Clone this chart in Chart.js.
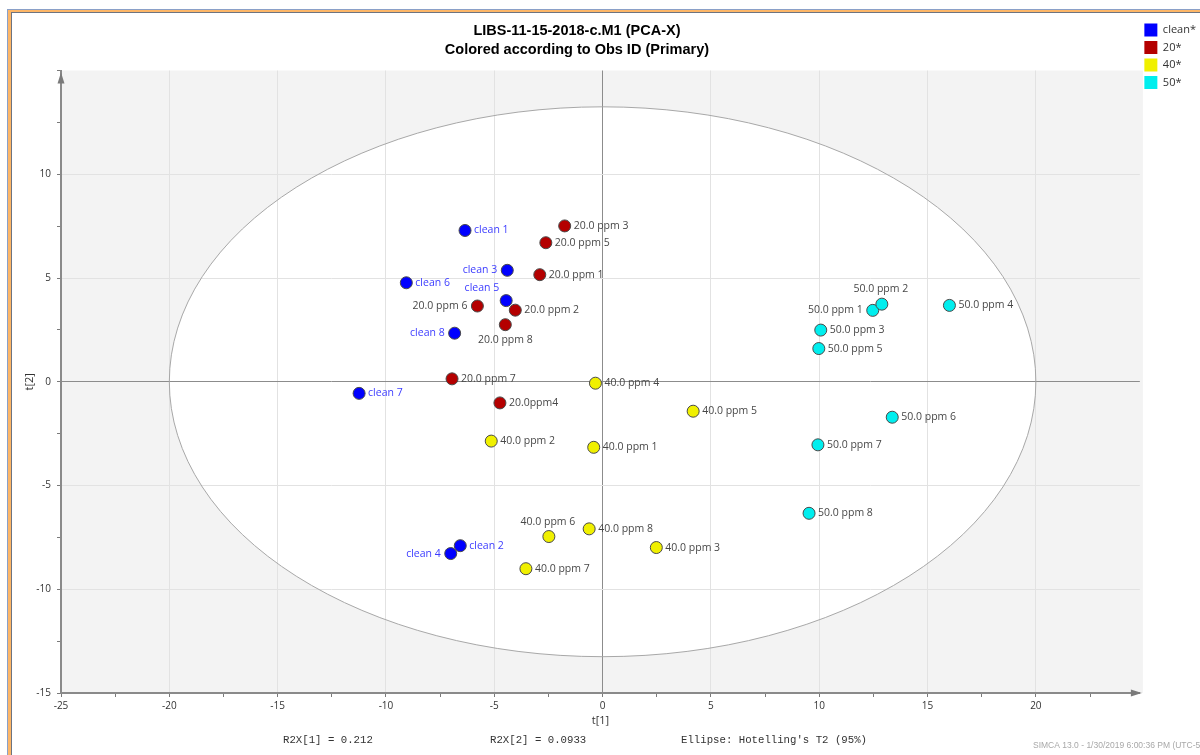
<!DOCTYPE html>
<html>
<head>
<meta charset="utf-8">
<script src="https://cdn.jsdelivr.net/npm/chart.js@4.4.1/dist/chart.umd.min.js"></script>
<style>
  html, body { margin: 0; padding: 0; background: #fff; overflow: hidden; }
  #outer { position: absolute; left: 7px; top: 9px; width: 1300px; height: 900px;
    background: #fdb667; border-left: 1px solid #8aa0c8; border-top: 1px solid #8aa0c8; }
  #inner { position: absolute; left: 11px; top: 12px; width: 1300px; height: 900px;
    background: #fff; border-left: 1px solid #6d7380; border-top: 1px solid #6d7380; }
  #plot { position: absolute; left: 12px; top: 13px; }
</style>
</head>
<body>
<div id="outer"></div>
<div id="inner"></div>
<canvas id="plot" width="1194" height="742"></canvas>
<script>
// score plot t[1] / t[2], one series per Obs ID class
const cleanNames = ['clean 1', 'clean 2', 'clean 3', 'clean 4', 'clean 5', 'clean 6', 'clean 7', 'clean 8'];
const cleanT1 = [-6.35, -6.57, -4.40, -7.01, -4.45, -9.06, -11.24, -6.83];
const cleanT2 = [7.29, -7.90, 5.37, -8.28, 3.91, 4.77, -0.56, 2.34];

const ppm20Names = ['20.0 ppm 1', '20.0 ppm 2', '20.0 ppm 3', '20.0ppm4', '20.0 ppm 5', '20.0 ppm 6', '20.0 ppm 7', '20.0 ppm 8'];
const ppm20T1 = [-2.90, -4.03, -1.75, -4.74, -2.62, -5.78, -6.95, -4.49];
const ppm20T2 = [5.16, 3.45, 7.51, -1.02, 6.70, 3.65, 0.14, 2.75];

const ppm40Names = ['40.0 ppm 1', '40.0 ppm 2', '40.0 ppm 3', '40.0 ppm 4', '40.0 ppm 5', '40.0 ppm 6', '40.0 ppm 7', '40.0 ppm 8'];
const ppm40T1 = [-0.41, -5.14, 2.48, -0.33, 4.18, -2.48, -3.54, -0.62];
const ppm40T2 = [-3.16, -2.86, -7.99, -0.07, -1.42, -7.46, -9.01, -7.09];

const ppm50Names = ['50.0 ppm 1', '50.0 ppm 2', '50.0 ppm 3', '50.0 ppm 4', '50.0 ppm 5', '50.0 ppm 6', '50.0 ppm 7', '50.0 ppm 8'];
const ppm50T1 = [12.47, 12.89, 10.07, 16.01, 9.98, 13.37, 9.94, 9.53];
const ppm50T2 = [3.44, 3.74, 2.49, 3.68, 1.60, -1.71, -3.04, -6.34];

const classLabels = ['clean*', '20*', '40*', '50*'];
const classColors = ['#0000ff', '#b40000', '#f0f000', '#00eeee'];

// Hotelling's T2 (95%) ellipse semi-axes in t[1], t[2] units
const ellipseT1 = 20.0;
const ellipseT2 = 13.25;

const summaryTexts = ['R2X[1] = 0.212', 'R2X[2] = 0.0933', "Ellipse: Hotelling's T2 (95%)"];
const footerText = 'SIMCA 13.0 - 1/30/2019 6:00:36 PM (UTC-5)';

// where each point's name goes, default is to the right
const labelSide = {
  'clean 3': 'left', 'clean 8': 'left', 'clean 4': 'left', 'clean 5': 'topleft',
  '20.0 ppm 6': 'left', '20.0 ppm 8': 'bottom',
  '40.0 ppm 6': 'top',
  '50.0 ppm 1': 'left', '50.0 ppm 2': 'top'
};

const names = [cleanNames, ppm20Names, ppm40Names, ppm50Names];
const t1s = [cleanT1, ppm20T1, ppm40T1, ppm50T1];
const t2s = [cleanT2, ppm20T2, ppm40T2, ppm50T2];

const datasets = classLabels.map((lab, k) => ({
  label: lab,
  data: names[k].map((n, i) => ({x: t1s[k][i], y: t2s[k][i]})),
  backgroundColor: classColors[k],
  borderColor: '#4a4a4a',
  borderWidth: 1,
  pointRadius: 6,
  pointHoverRadius: 6
}));

const isMajor = v => Math.abs(v % 5) < 1e-9;

const ellipseBg = {
  id: 'ellipseBg',
  beforeDraw(chart) {
    const {ctx, chartArea: a, scales: {x, y}} = chart;
    ctx.save();
    ctx.fillStyle = '#f3f3f3';
    ctx.fillRect(a.left, a.top, a.right - a.left + 3, a.bottom - a.top);
    const cx = x.getPixelForValue(0), cy = y.getPixelForValue(0);
    const rx = x.getPixelForValue(ellipseT1) - cx;
    const ry = cy - y.getPixelForValue(ellipseT2);
    ctx.beginPath();
    ctx.ellipse(cx, cy, rx, ry, 0, 0, Math.PI * 2);
    ctx.fillStyle = '#ffffff';
    ctx.fill();
    ctx.restore();
  },
  beforeDatasetsDraw(chart) {
    const {ctx, scales: {x, y}} = chart;
    const cx = x.getPixelForValue(0), cy = y.getPixelForValue(0);
    ctx.save();
    ctx.beginPath();
    ctx.ellipse(cx, cy, x.getPixelForValue(ellipseT1) - cx, cy - y.getPixelForValue(ellipseT2), 0, 0, Math.PI * 2);
    ctx.strokeStyle = '#a8a8a8';
    ctx.lineWidth = 1;
    ctx.stroke();
    ctx.restore();
  }
};

const axisArrows = {
  id: 'axisArrows',
  afterDraw(chart) {
    const {ctx, chartArea: a} = chart;
    ctx.save();
    ctx.fillStyle = '#7a7a7a';
    ctx.beginPath();
    ctx.moveTo(a.left, a.top + 2);
    ctx.lineTo(a.left - 3.5, a.top + 13);
    ctx.lineTo(a.left + 3.5, a.top + 13);
    ctx.fill();
    ctx.beginPath();
    ctx.moveTo(a.right + 2, a.bottom);
    ctx.lineTo(a.right - 9, a.bottom - 3.5);
    ctx.lineTo(a.right - 9, a.bottom + 3.5);
    ctx.fill();
    ctx.restore();
  }
};

const pointNames = {
  id: 'pointNames',
  afterDatasetsDraw(chart) {
    const ctx = chart.ctx;
    ctx.save();
    ctx.font = '10.5px "Open Sans"';
    ctx.textBaseline = 'middle';
    chart.data.datasets.forEach((ds, k) => {
      ctx.fillStyle = k === 0 ? '#3c3cff' : '#484848';
      chart.getDatasetMeta(k).data.forEach((pt, i) => {
        const n = names[k][i];
        const side = labelSide[n] || 'right';
        let tx = pt.x + 9, ty = pt.y;
        ctx.textAlign = 'left';
        if (side === 'left') { ctx.textAlign = 'right'; tx = pt.x - 10; }
        if (side === 'top') { ctx.textAlign = 'center'; tx = pt.x - 1; ty = pt.y - 15; }
        if (side === 'bottom') { ctx.textAlign = 'center'; tx = pt.x; ty = pt.y + 15; }
        if (side === 'topleft') { ctx.textAlign = 'right'; tx = pt.x - 7; ty = pt.y - 13; }
        ctx.fillText(n, tx, ty);
      });
    });
    ctx.restore();
  }
};

const footer = {
  id: 'footer',
  afterLayout(chart) {
    // centre the title over the plot window, leaving out the legend column
    chart.titleBlock.left = 0;
    chart.titleBlock.right = chart.legend.left + 2;
  },
  afterDraw(chart) {
    const ctx = chart.ctx;
    ctx.save();
    ctx.font = '10.7px "Liberation Mono"';
    ctx.fillStyle = '#333';
    ctx.textBaseline = 'middle';
    const xs = [271, 478, 669];
    summaryTexts.forEach((t, i) => ctx.fillText(t, xs[i], 727));
    ctx.font = '8.5px "Liberation Sans"';
    ctx.fillStyle = '#a8a8a8';
    ctx.fillText(footerText, 1021, 733);
    ctx.restore();
  }
};

const gridColor = c => {
  if (!c.tick) return 'rgba(0,0,0,0)';
  const v = c.tick.value;
  if (Math.abs(v) < 1e-9) return '#8c8c8c';
  if (isMajor(v) && v > c.scale.min + 0.1 && v < c.scale.max - 0.5) return '#e2e2e2';
  return 'rgba(0,0,0,0)';
};

new Chart(document.getElementById('plot'), {
  type: 'scatter',
  data: {datasets},
  plugins: [ellipseBg, axisArrows, pointNames, footer],
  options: {
    responsive: false,
    animation: false,
    devicePixelRatio: 1,
    layout: {padding: {top: 6, left: 0, right: 0, bottom: 0}},
    plugins: {
      title: {
        display: true,
        text: ['LIBS-11-15-2018-c.M1 (PCA-X)', 'Colored according to Obs ID (Primary)'],
        color: '#000',
        font: {family: '"Liberation Sans"', size: 14.5, weight: 'bold', lineHeight: '19px'},
        padding: {top: 2.5, bottom: 11}
      },
      legend: {
        position: 'right',
        align: 'start',
        labels: {
          boxWidth: 13,
          boxHeight: 13,
          padding: 4.5,
          color: '#333',
          font: {family: '"Open Sans"', size: 11},
          generateLabels: chart => Chart.defaults.plugins.legend.labels.generateLabels(chart)
            .map(l => Object.assign(l, {lineWidth: 0, strokeStyle: l.fillStyle}))
        }
      },
      tooltip: {enabled: false}
    },
    scales: {
      x: {
        type: 'linear',
        min: -25,
        max: 24.8,
        afterFit: s => { s.height = 62; },
        ticks: {
          stepSize: 2.5,
          autoSkip: false,
          maxRotation: 0,
          includeBounds: false,
          padding: 3,
          color: '#333',
          font: {family: '"Open Sans"', size: 10},
          callback: v => (isMajor(v) && v < 24) ? v : ''
        },
        grid: {color: gridColor, tickColor: '#7a7a7a', tickLength: 4, lineWidth: 1},
        border: {color: '#8a8a8a', width: 2},
        title: {display: true, text: 't[1]', color: '#333', font: {family: '"Open Sans"', size: 11}, padding: {top: 0, bottom: 28}}
      },
      y: {
        type: 'linear',
        min: -15,
        max: 15,
        afterFit: s => { s.width = 49; },
        ticks: {
          stepSize: 2.5,
          autoSkip: false,
          includeBounds: false,
          padding: 6,
          color: '#333',
          font: {family: '"Open Sans"', size: 10},
          callback: v => (isMajor(v) && v < 14) ? v : ''
        },
        grid: {color: gridColor, tickColor: '#7a7a7a', tickLength: 4, lineWidth: 1},
        border: {color: '#8a8a8a', width: 2},
        title: {display: true, text: 't[2]', color: '#333', font: {family: '"Open Sans"', size: 11}, padding: {top: 11, bottom: 0}}
      }
    }
  }
});
</script>
</body>
</html>
